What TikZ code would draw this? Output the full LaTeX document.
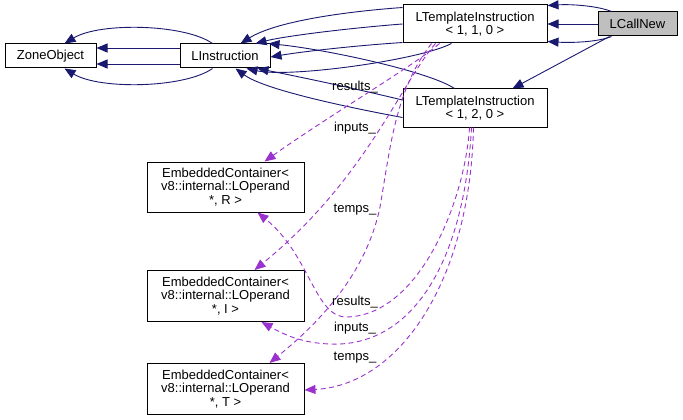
\documentclass[tikz,border=0pt]{standalone}
\usepackage{fontspec}
\setmainfont{Liberation Sans}
\usetikzlibrary{arrows.meta,calc}
\definecolor{navyc}{HTML}{191970}
\definecolor{purp}{HTML}{9A32CD}
\definecolor{grayfill}{HTML}{BFBFBF}
\begin{document}
\begin{tikzpicture}[x=1pt,y=-1pt,
  every node/.style={font=\fontsize{13}{13.2}\selectfont},
  box/.style={draw=black,line width=1pt,fill=white,inner sep=0pt,align=center},
  inh/.style={draw=navyc,line width=0.9pt,-{Triangle[length=11pt,width=9pt]}},
  mem/.style={draw=purp,line width=0.9pt,dash pattern=on 5pt off 3.5pt,-{Triangle[length=11pt,width=9pt]}},
  lbl/.style={inner sep=0pt}
]
\fill[white] (0,0) rectangle (683,420);
\useasboundingbox (0,0) rectangle (683,420);

% nodes
\node[box,minimum width=91pt,minimum height=24pt] (zone) at (50.5,56) {ZoneObject};
\node[box,minimum width=90pt,minimum height=24pt] (linstr) at (225,56) {LInstruction};
\node[box,minimum width=144pt,minimum height=38pt] (lti110) at (475,24) {LTemplateInstruction\\{}< 1, 1, 0 >};
\node[box,fill=grayfill,minimum width=79pt,minimum height=24pt] (lcall) at (637.5,24) {LCallNew};
\node[box,minimum width=144pt,minimum height=38pt] (lti120) at (475,108) {LTemplateInstruction\\{}< 1, 2, 0 >};
\node[box,minimum width=157pt,minimum height=50pt] (ecr) at (225.5,187) {EmbeddedContainer<\\ v8::internal::LOperand\\{}*, R >};
\node[box,minimum width=157pt,minimum height=51pt] (eci) at (225.5,296) {EmbeddedContainer<\\ v8::internal::LOperand\\{}*, I >};
\node[box,minimum width=157pt,minimum height=51pt] (ect) at (225.5,389) {EmbeddedContainer<\\ v8::internal::LOperand\\{}*, T >};

% LInstruction -> ZoneObject
\draw[inh] ($(linstr.north west)+(33,0)$) .. controls (185,24) and (100,22) .. ($(zone.north west)+(60,0)$);
\draw[inh] ($(linstr.west)+(0,-8)$) -- ($(zone.east)+(0,-8)$);
\draw[inh] ($(linstr.west)+(0,8)$) -- ($(zone.east)+(0,8)$);
\draw[inh] ($(linstr.south west)+(33,0)$) .. controls (185,88) and (100,90) .. ($(zone.south west)+(60,0)$);

% LCallNew -> templates
\draw[inh] ($(lcall.north west)+(14,0)$) .. controls (598,6) and (572,4) .. ($(lti110.north east)+(0,1)$);
\draw[inh] (lcall.west) -- (lti110.east);
\draw[inh] ($(lcall.south west)+(14,0)$) .. controls (598,42) and (572,43) .. ($(lti110.south east)+(0,-2)$);
\draw[inh] ($(lcall.south west)+(12,0)$) -- ($(lti120.north west)+(110,0)$);

% templates -> LInstruction
\draw[inh] ($(lti110.north west)+(0,3)$) .. controls (340,12) and (275,22) .. ($(linstr.north west)+(61,0)$);
\draw[inh] (lti110.west) .. controls (350,28) and (285,36) .. ($(linstr.north west)+(76,0)$);
\draw[inh] ($(lti120.north west)+(52,0)$) .. controls (430,72) and (330,50) .. ($(linstr.north east)+(-2,0)$);
\draw[inh] ($(lti110.south west)+(0,-1)$) .. controls (350,46) and (300,52) .. ($(linstr.east)+(0,1)$);
\draw[inh] ($(lti120.west)+(0,-8)$) .. controls (340,85) and (285,74) .. ($(linstr.south west)+(78,0)$);
\draw[inh] ($(lti110.south west)+(49,0)$) .. controls (420,60) and (290,78) .. ($(linstr.south west)+(67,0)$);
\draw[inh] ($(lti120.south west)+(0,-10)$) .. controls (330,104) and (262,88) .. ($(linstr.south west)+(56,0)$);

% member relations from LTemplateInstruction<1,1,0>
\draw[mem] ($(lti110.south west)+(37,0)$) .. controls (415,65) and (330,115) .. ($(ecr.north west)+(118,0)$);
\draw[mem] ($(lti110.south west)+(33,0)$) .. controls (400,85) and (365,180) .. ($(eci.north west)+(108,0)$);
\draw[mem] ($(lti110.south west)+(29,0)$) .. controls (395,90) and (390,150) .. (380,207) .. controls (365,280) and (310,330) .. ($(ect.north west)+(123,0)$);

% member relations from LTemplateInstruction<1,2,0>
\draw[mem] ($(lti120.south west)+(67,0)$) .. controls (465,200) and (420,315) .. (347,317) .. controls (315,318) and (310,255) .. ($(ecr.south west)+(111,0)$);
\draw[mem] ($(lti120.south west)+(69,0)$) .. controls (465,250) and (420,340) .. (340,344) .. controls (305,345) and (285,335) .. ($(eci.south west)+(115,0)$);
\draw[mem] ($(lti120.south west)+(71,0)$) .. controls (470,280) and (400,385) .. ($(ect.east)+(0,1)$);

% labels
\node[lbl] (l1) at (355,87) {results\_};
\node[lbl] (l2) at (355,128) {inputs\_};
\node[lbl] (l3) at (355,210) {temps\_};
\node[lbl] (l4) at (355,302) {results\_};
\node[lbl] (l5) at (355,328) {inputs\_};
\node[lbl] (l6) at (355,358) {temps\_};
\end{tikzpicture}
\end{document}
